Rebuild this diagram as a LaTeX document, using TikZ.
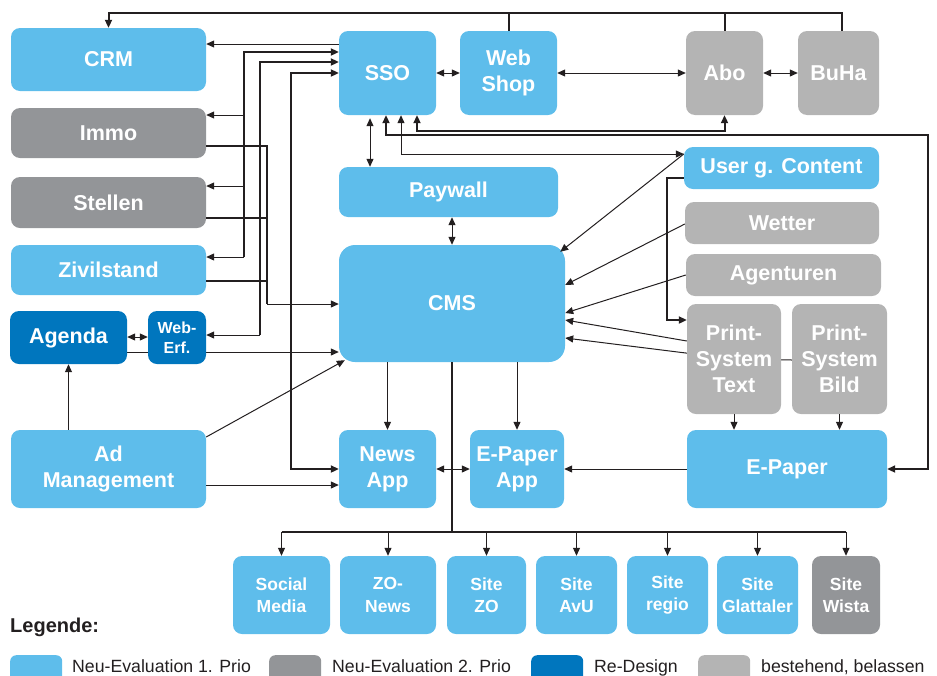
\documentclass[tikz,border=0pt]{standalone}
\usepackage{fontspec}
\setmainfont{Liberation Sans}
\usetikzlibrary{arrows.meta,calc,backgrounds}
\definecolor{lblue}{HTML}{5EBDEB}
\definecolor{dgray}{HTML}{939598}
\definecolor{dblue}{HTML}{0076BE}
\definecolor{lgray}{HTML}{B4B4B4}
\definecolor{ln}{HTML}{231F20}
\newcommand\zbox[7]{\node[#6,minimum width={#4-#2},minimum height={#5-#3}] (#1) at ({(#2+#4)/2},{(#3+#5)/2}) {#7};}
\begin{document}
\begin{tikzpicture}[x=1pt,y=-1pt,
 box/.style={rounded corners=9pt,inner sep=0pt,text=white,align=center,font=\bfseries\fontsize{21.5}{26}\selectfont},
 bl/.style={box,fill=lblue}, dg/.style={box,fill=dgray}, db/.style={box,fill=dblue}, lg/.style={box,fill=lgray},
 small/.style={font=\bfseries\fontsize{17.5}{22.5}\selectfont},
 thk/.style={draw=ln,line width=2pt},
 thn/.style={draw=ln,line width=1pt},
 legtext/.style={anchor=base west,inner sep=0pt,text=ln,font=\fontsize{17.7}{22}\selectfont},
 swatch/.style={anchor=north west,rounded corners=6pt,minimum width=52,minimum height=30,inner sep=0pt},
 >={Triangle[length=8pt,width=7pt]},
]
\useasboundingbox (0,0) rectangle (937,675);
% nodes
\zbox{crm}{11}{28}{206}{91}{bl}{CRM}
\zbox{immo}{11}{108}{206}{158}{dg}{Immo}
\zbox{stellen}{11}{177}{206}{228}{dg}{Stellen}
\zbox{zivil}{11}{245}{206}{295}{bl}{Zivilstand}
\zbox{agenda}{10}{311}{127}{364}{db}{Agenda}
\zbox{weberf}{148}{311}{206}{364}{db,font=\bfseries\fontsize{16}{20}\selectfont}{Web-\\Erf.}
\zbox{ad}{11}{430}{206}{508}{bl}{Ad\\Management}
\zbox{sso}{339}{31}{436}{115}{bl}{SSO}
\zbox{webshop}{460}{31}{557}{115}{bl}{Web\\Shop}
\zbox{abo}{686}{31}{763}{115}{lg}{Abo}
\zbox{buha}{798}{31}{879}{115}{lg}{BuHa}
\zbox{paywall}{339}{167}{558}{217}{bl}{Paywall}
\zbox{cms}{339}{245}{565}{362}{bl,rounded corners=16pt}{CMS}
\zbox{ugc}{684}{147}{879}{189}{bl}{User g. Content}
\zbox{wetter}{685}{202}{879}{244}{lg}{Wetter}
\zbox{agent}{686}{254}{881}{296}{lg}{Agenturen}
\zbox{pstext}{687}{304}{781}{414}{lg}{Print-\\System\\Text}
\zbox{psbild}{792}{304}{887}{414}{lg}{Print-\\System\\Bild}
\zbox{epaper}{687}{430}{887}{508}{bl}{E-Paper}
\zbox{epapp}{470}{430}{564}{508}{bl}{E-Paper\\App}
\zbox{news}{339}{430}{436}{508}{bl}{News\\App}
\zbox{social}{233}{556}{330}{634}{bl,small}{Social\\Media}
\zbox{zonews}{340}{556}{436}{634}{bl,small}{ZO-\\News}
\zbox{sitezo}{447}{556}{526}{634}{bl,small}{Site\\ZO}
\zbox{avu}{536}{556}{617}{634}{bl,small}{Site\\AvU}
\zbox{regio}{627}{556}{708}{634}{bl,small}{Site\\regio}
\zbox{glatt}{717}{556}{798}{634}{bl,small}{Site\\Glattaler}
\zbox{wista}{812}{556}{880}{634}{dg,small}{Site\\Wista}
% legend
\node[anchor=base west,inner sep=0pt,text=ln,font=\bfseries\fontsize{20}{24}\selectfont] (leg) at (10,632) {Legende:};
\node[swatch,fill=lblue] (sw1) at (10,655) {};
\node[legtext] (lt1) at (72,672) {Neu-Evaluation 1. Prio};
\node[swatch,fill=dgray] (sw2) at (269,655) {};
\node[legtext] (lt2) at (332,672) {Neu-Evaluation 2. Prio};
\node[swatch,fill=dblue] (sw3) at (531,655) {};
\node[legtext] (lt3) at (594,672) {Re-Design};
\node[swatch,fill=lgray] (sw4) at (698,655) {};
\node[legtext] (lt4) at (761,672) {bestehend, belassen};
% connectors
\draw[thk] (webshop.north) -- (webshop.north |- 0,13);
\draw[thk] (abo.north) -- (abo.north |- 0,13);
\draw[thk,->] ([xshift=3.5pt]buha.north) -- ([xshift=3.5pt]buha.north |- 0,13) -- (crm.north |- 0,13) -- (crm.north);
\draw[thn,->] (sso.west |- 0,44) -- (crm.east |- 0,44);
\draw[thk,->] (244,257) -- (244,52) -- (sso.west |- 0,52);
\draw[thn,->] (244,115) -- (immo.east |- 0,115);
\draw[thn,->] (244,186) -- (stellen.east |- 0,186);
\draw[thn,->] (244,257) -- (zivil.east |- 0,257);
\draw[thk,->] (260,335) -- (260,62) -- (sso.west |- 0,62);
\draw[thn,->] (260,335) -- (weberf.east |- 0,335);
\draw[thk,<->] (news.west |- 0,469) -| (291,73) -- (sso.west |- 0,73);
\draw[thk] (immo.east |- 0,146) -| (267,304);
\draw[thk] (stellen.east |- 0,218) -- (267,218);
\draw[thk] (zivil.east |- 0,281) -- (267,281);
\draw[thn,->] (267,304) -- (cms.west |- 0,304);
\begin{pgfonlayer}{background}
\draw[thn,->] (agenda.east |- 0,352) -- (cms.west |- 0,352);
\draw[thn,->] (psbild.west |- 0,360) -- (734,359) -- (cms.east |- 0,338);
\end{pgfonlayer}
\draw[thn,<->] (agenda.east |- 0,337) -- (weberf.west |- 0,337);
\draw[thn,->] (agenda.south |- ad.north) -- (agenda.south);
\draw[thn,->] (ad.east |- 0,437) -- ($(cms.south west)+(6,-2)$);
\draw[thn,->] (ad.east |- 0,485) -- (news.west |- 0,485);
\draw[thn,<->,shorten <=3pt] (sso.south -| 370,0) -- (paywall.north -| 370,0);
\draw[thn,<->] (paywall.south -| 452,0) -- (cms.north -| 452,0);
\draw[thn,<->] (sso.south -| 401,0) |- (ugc.west |- 0,154);
\draw[thk,<->] (sso.south -| 417,0) -- (417,131) -| (abo.south);
\draw[thk,<->] (sso.south -| 386,0) -- (386,135) -| (928,469) -- (epaper.east |- 0,469);
\draw[thn,->] (ugc.west |- 0,154) -- ($(cms.north east)+(-5,7)$);
\draw[thn,->] (wetter.west |- 0,224) -- (cms.east |- 0,285);
\draw[thn,->] (agent.west |- 0,275) -- (cms.east |- 0,313);
\draw[thn,->] (pstext.west |- 0,341) -- (cms.east |- 0,320);
\draw[thk,->] (ugc.west |- 0,178) -- (667,178) |- (pstext.west |- 0,320);
\draw[thn,->] (pstext.south) -- (pstext.south |- epaper.north);
\draw[thn,->] (psbild.south) -- (psbild.south |- epaper.north);
\draw[thn,->] (epaper.west) -- (epapp.east);
\draw[thn,<->] (news.east) -- (epapp.west);
\draw[thn,->] (news.north |- cms.south) -- (news.north);
\draw[thn,->] (epapp.north |- cms.south) -- (epapp.north);
\draw[thn,<->] (sso.east) -- (webshop.west);
\draw[thn,<->] (webshop.east) -- (abo.west);
\draw[thn,<->] (abo.east) -- (buha.west);
\draw[thk] (cms.south) -- (cms.south |- 0,532);
\draw[thk] (social.north |- 0,532) -- (wista.north |- 0,532);
\foreach \n in {social,zonews,sitezo,avu,regio,glatt,wista} \draw[thn,->] (\n.north |- 0,532) -- (\n.north);
\end{tikzpicture}
\end{document}
